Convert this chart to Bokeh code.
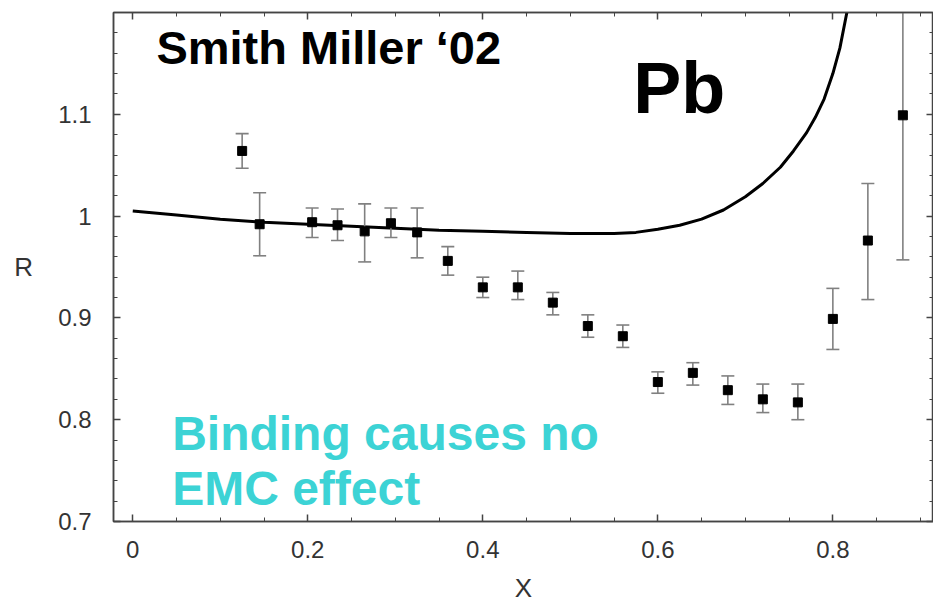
from bokeh.plotting import figure
from bokeh.models import Range1d, LinearAxis, Label, FixedTicker, ColumnDataSource, CustomJSTickFormatter
from bokeh.embed import file_html
from bokeh.resources import INLINE

# ---- data ----
x_pts = [0.125, 0.145, 0.205, 0.234, 0.265, 0.295, 0.325, 0.36, 0.40, 0.44, 0.48,
         0.52, 0.56, 0.60, 0.64, 0.68, 0.72, 0.76, 0.80, 0.84, 0.88]
r_vals = [1.064, 0.992, 0.994, 0.991, 0.985, 0.993, 0.984, 0.956, 0.930, 0.930, 0.915,
          0.892, 0.882, 0.837, 0.846, 0.829, 0.820, 0.817, 0.899, 0.976, 1.099]
r_low = [1.047, 0.961, 0.979, 0.976, 0.955, 0.979, 0.959, 0.942, 0.920, 0.918, 0.903,
         0.881, 0.871, 0.826, 0.834, 0.815, 0.807, 0.800, 0.869, 0.918, 0.957]
r_high = [1.081, 1.023, 1.008, 1.007, 1.012, 1.008, 1.008, 0.970, 0.940, 0.946, 0.925,
          0.903, 0.893, 0.847, 0.856, 0.843, 0.835, 0.835, 0.929, 1.032, 1.241]

curve_x = [0.0, 0.05, 0.10, 0.15, 0.20, 0.25, 0.30, 0.35, 0.40, 0.45, 0.50, 0.55,
           0.575, 0.60, 0.625, 0.65, 0.675, 0.70, 0.72, 0.74, 0.755, 0.77, 0.78,
           0.79, 0.80, 0.808, 0.816]
curve_y = [1.005, 1.001, 0.997, 0.994, 0.992, 0.990, 0.988, 0.986, 0.985, 0.984, 0.983, 0.983,
           0.984, 0.987, 0.991, 0.997, 1.006, 1.019, 1.032, 1.048, 1.064, 1.082, 1.097,
           1.115, 1.140, 1.165, 1.200]

x_ticks = [0, 0.2, 0.4, 0.6, 0.8]
y_ticks = [0.7, 0.8, 0.9, 1.0, 1.1]

x_minor = [round(i * 0.05, 2) for i in range(-1, 20)]
y_minor = [round(0.7 + i * 0.02, 2) for i in range(0, 26)]

FONT = "Liberation Sans"
CYAN = "#3cd3d5"

p = figure(width=933, height=605, output_backend="svg", toolbar_location=None,
           x_range=Range1d(-0.022, 0.915), y_range=Range1d(0.7, 1.2),
           min_border_left=113, min_border_top=12, min_border_bottom=82, min_border_right=0,
           background_fill_color="white", border_fill_color="white")
p.grid.visible = False
p.outline_line_color = "#444"
p.outline_line_width = 1.5

fmt = CustomJSTickFormatter(code="return (Math.round(tick*100)/100).toString();")
blank = CustomJSTickFormatter(code="return '';")

bottom_ax = p.below[0]
left_ax = p.left[0]

bottom_ax.ticker = FixedTicker(ticks=x_ticks, minor_ticks=x_minor)
left_ax.ticker = FixedTicker(ticks=y_ticks, minor_ticks=y_minor)
bottom_ax.formatter = fmt
left_ax.formatter = fmt

top_ax = LinearAxis(ticker=FixedTicker(ticks=x_ticks, minor_ticks=x_minor),
                    formatter=blank, major_label_standoff=0)
right_ax = LinearAxis(ticker=FixedTicker(ticks=y_ticks, minor_ticks=y_minor),
                      formatter=blank, major_label_standoff=0)
p.add_layout(top_ax, "above")
p.add_layout(right_ax, "right")

for ax in [bottom_ax, left_ax, top_ax, right_ax]:
    ax.axis_line_color = "#444"
    ax.axis_line_width = 1.5
    ax.major_tick_in = 7
    ax.major_tick_out = 0
    ax.minor_tick_in = 4
    ax.minor_tick_out = 0
    ax.major_tick_line_color = "#444"
    ax.minor_tick_line_color = "#444"
    ax.major_tick_line_width = 1.5
    ax.minor_tick_line_width = 1

for ax in [bottom_ax, left_ax]:
    ax.major_label_text_font = FONT
    ax.major_label_text_font_size = "24px"
    ax.major_label_text_color = "#333"
    ax.axis_label_text_font = FONT
    ax.axis_label_text_font_size = "26px"
    ax.axis_label_text_font_style = "normal"
    ax.axis_label_text_color = "#333"

bottom_ax.axis_label = "X"
bottom_ax.major_label_standoff = 19
bottom_ax.axis_label_standoff = 12
left_ax.axis_label = "R"
left_ax.axis_label_orientation = "horizontal"
left_ax.major_label_standoff = 22
left_ax.axis_label_standoff = 22

# theory curve
p.line(curve_x, curve_y, line_color="black", line_width=3)

# error bars
src = ColumnDataSource(dict(x=x_pts, r=r_vals, lo=r_low, hi=r_high))
p.segment(x0="x", y0="lo", x1="x", y1="hi", source=src, line_color="#808080", line_width=1.6)
p.scatter(x="x", y="lo", source=src, marker="dash", size=13, line_color="#808080", line_width=1.6)
p.scatter(x="x", y="hi", source=src, marker="dash", size=13, line_color="#808080", line_width=1.6)
p.scatter(x="x", y="r", source=src, marker="square", size=9, fill_color="black", line_color="black")

# annotations
p.add_layout(Label(x=0.027, y=1.166, text="Smith Miller \u201802", text_font=FONT,
                   text_font_size="47px", text_font_style="bold", text_color="black",
                   text_baseline="alphabetic"))
p.add_layout(Label(x=0.572, y=1.126, text="Pb", text_font=FONT,
                   text_font_size="72px", text_font_style="bold", text_color="black",
                   text_baseline="alphabetic"))
p.add_layout(Label(x=0.045, y=0.7865, text="Binding  causes no", text_font=FONT,
                   text_font_size="48px", text_font_style="bold", text_color=CYAN,
                   text_baseline="alphabetic"))
p.add_layout(Label(x=0.045, y=0.732, text="EMC effect", text_font=FONT,
                   text_font_size="48px", text_font_style="bold", text_color=CYAN,
                   text_baseline="alphabetic"))

open("out.html", "w").write(file_html(p, INLINE))
